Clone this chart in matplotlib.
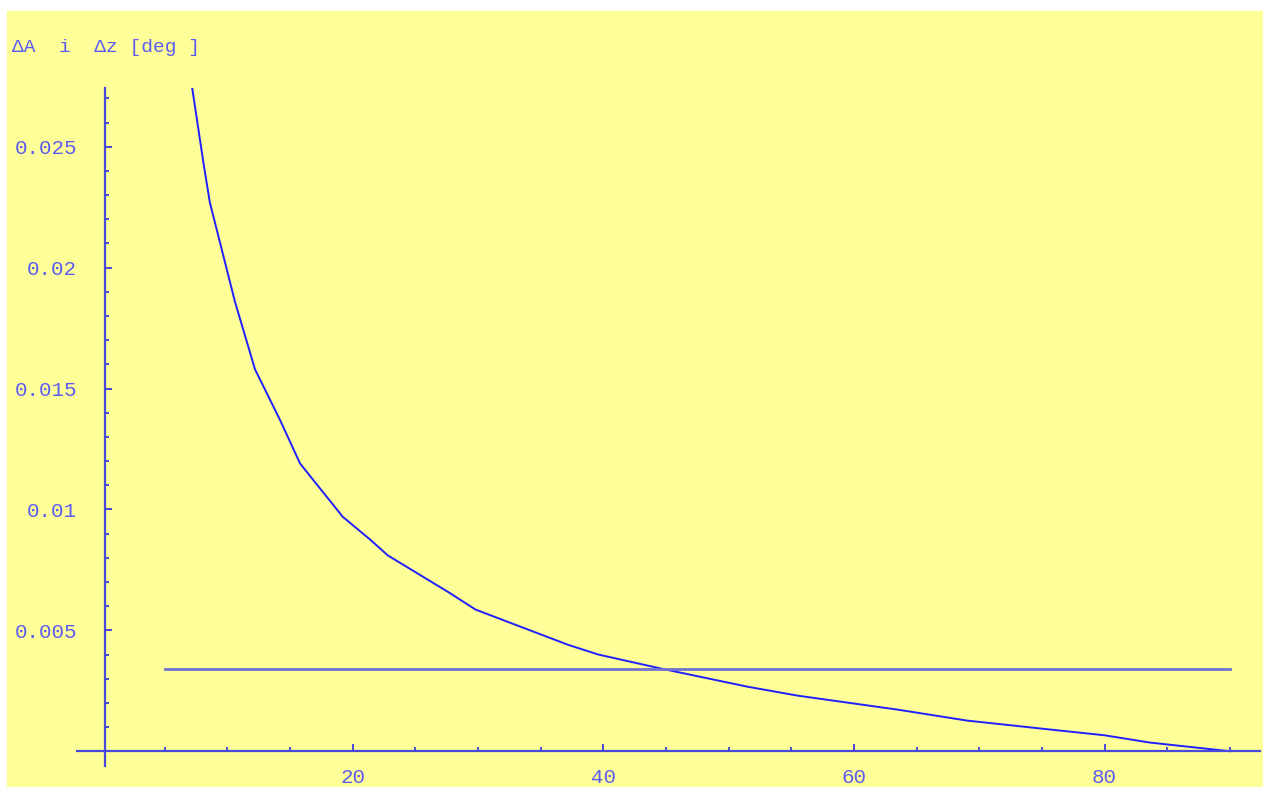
import numpy as np
import matplotlib.pyplot as plt
from matplotlib.patches import Rectangle
from matplotlib.ticker import MultipleLocator, FixedLocator

# zenith angle [deg] vs. error
angle = [7.2, 8.1, 8.6, 10.6, 12.2, 14.2, 15.8, 19.2, 21.4, 22.8, 27.7, 29.8,
         33.8, 37.2, 39.6, 44.6, 51.5, 55.5, 63.5, 69.0, 74.9, 80.0, 83.6, 90.0]
delta = [0.0274, 0.0243, 0.0227, 0.0186, 0.0158, 0.0137, 0.0119, 0.0097,
         0.00875, 0.0081, 0.00656, 0.00586, 0.00507, 0.0044, 0.0040, 0.00342,
         0.00267, 0.0023, 0.00172, 0.00127, 0.00094, 0.00066, 0.00036, 0.0]

level_x = [5, 90]
level_y = [0.0034, 0.0034]

yticks = [0.005, 0.01, 0.015, 0.02, 0.025]
ylabels = ['0.005', '0.01', '0.015', '0.02', '0.025']
xticks = [20, 40, 60, 80]
xlabels = ['20', '40', '60', '80']

W, H = 1263, 787
axis_col = '#4a4ad8'
text_col = '#5c5cf0'
mono = ['Liberation Mono', 'DejaVu Sans Mono']

fig = plt.figure(figsize=(W / 100, H / 100), dpi=100, facecolor='white')
fig.patches.append(Rectangle((7 / W, 0), 1 - 7 / W, 1 - 11 / H,
                             transform=fig.transFigure, color='#ffff99', zorder=-1))

ax = fig.add_axes([77 / W, 1 - 766 / H, (1260 - 77) / W, (766 - 88) / H])
ax.set_facecolor('none')
ax.set_xlim(-2, 92.4)
ax.set_ylim(-0.00061, 0.02743)

ax.plot(angle, delta, color='#2020ff', lw=1.4, clip_on=True)
ax.plot(level_x, level_y, color='#7070d0', lw=2.0)

for s in ['top', 'right']:
    ax.spines[s].set_visible(False)
ax.spines['left'].set_position(('data', 0.2))
ax.spines['bottom'].set_position(('data', 0))
for s in ['left', 'bottom']:
    ax.spines[s].set_color(axis_col)
    ax.spines[s].set_linewidth(1.6)

ax.xaxis.set_major_locator(FixedLocator(xticks))
ax.set_xticklabels(xlabels)
ax.xaxis.set_minor_locator(FixedLocator([v for v in range(5, 95, 5) if v % 20]))
ax.yaxis.set_major_locator(FixedLocator(yticks))
ax.set_yticklabels(ylabels)
ax.yaxis.set_minor_locator(FixedLocator([i / 1000 for i in range(1, 28) if i % 5]))

ax.tick_params(which='both', direction='in', color=axis_col, width=1.4,
               labelcolor=text_col)
ax.tick_params(which='major', length=5)
ax.tick_params(which='minor', length=3)
ax.tick_params(axis='x', pad=12)
ax.tick_params(axis='y', pad=20)
for lab in ax.get_xticklabels() + ax.get_yticklabels():
    lab.set_family(mono)
    lab.set_fontsize(15)

fig.text(12 / W, 1 - 52 / H, 'ΔA  i  Δz [deg ]', family=mono, fontsize=14,
         color=text_col, ha='left', va='baseline')

fig.savefig('out.png', dpi=100, facecolor=fig.get_facecolor())
